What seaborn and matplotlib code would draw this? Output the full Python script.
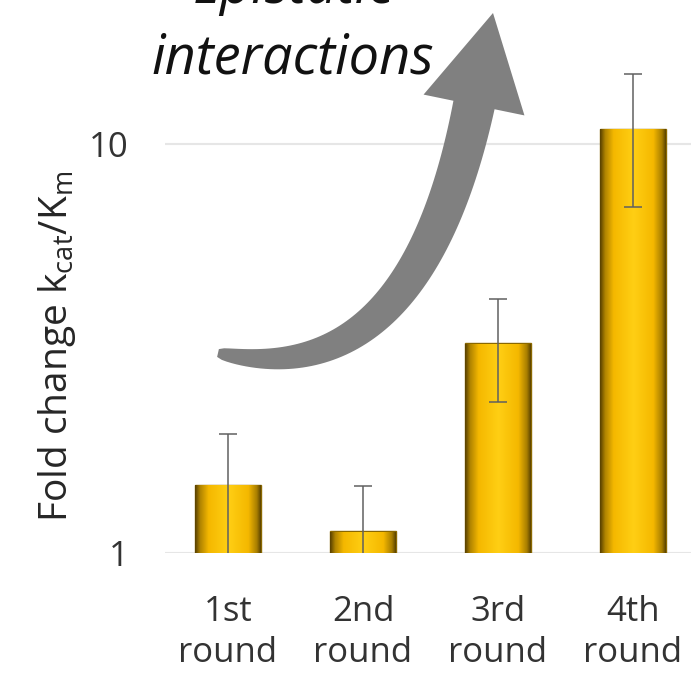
import numpy as np
import matplotlib
matplotlib.use('Agg')
import matplotlib.pyplot as plt
import seaborn as sns
from matplotlib.colors import LinearSegmentedColormap
from matplotlib.patches import Polygon

# Data
rounds = ['1st\nround', '2nd\nround', '3rd\nround', '4th\nround']
fold_change = [1.47, 1.13, 3.26, 10.9]
fold_error = [0.48, 0.33, 0.92, 3.9]
y_ticks = [1, 10]
y_tick_labels = ['1', '10']

sns.set_style('white')
plt.rcParams['font.family'] = ['Open Sans', 'DejaVu Sans']
plt.rcParams['mathtext.default'] = 'regular'

W, H = 691, 677
fig = plt.figure(figsize=(W / 100, H / 100), dpi=100)
ax = fig.add_axes([165 / W, 124 / H, (W - 165) / W, 493 / H])

# Bars
sns.barplot(x=rounds, y=fold_change, color='#FFC000', width=0.49,
            errorbar=None, edgecolor='#8a6800', linewidth=1.0, ax=ax)
ax.set_yscale('log')

# Metallic gold shading inside each bar
gold = LinearSegmentedColormap.from_list('gold', [
    (0.0, '#5e4500'), (0.07, '#b08400'), (0.2, '#f5b800'),
    (0.5, '#ffcf14'), (0.8, '#f5b800'), (0.93, '#a87e00'), (1.0, '#4e3900')])
grad = np.linspace(0, 1, 256).reshape(1, -1)
for bar in ax.patches:
    x0 = bar.get_x()
    w = bar.get_width()
    h = bar.get_height()
    im = ax.imshow(grad, cmap=gold, aspect='auto', extent=(x0, x0 + w, 1, h),
                   zorder=bar.get_zorder() + 0.1, interpolation='bilinear')
    im.set_clip_path(bar)
ax.set_ylim(1, 16.05)
ax.set_xlim(-0.467, 3.43)

# Error bars
ax.errorbar(x=np.arange(len(rounds)), y=fold_change, yerr=fold_error, fmt='none',
            ecolor='#606060', elinewidth=1.1, capsize=6.5, capthick=1.1, zorder=5)

# Axes styling
ax.yaxis.set_major_locator(matplotlib.ticker.FixedLocator(y_ticks))
ax.yaxis.set_minor_locator(matplotlib.ticker.NullLocator())
ax.set_yticklabels(y_tick_labels)
ax.grid(True, axis='y', color='#e6e6e6', linewidth=1.5)
ax.set_axisbelow(True)
for s in ax.spines.values():
    s.set_visible(False)
ax.tick_params(axis='both', length=0, labelsize=25, colors='#333333')
ax.tick_params(axis='y', pad=26)
ax.tick_params(axis='x', pad=30)
for t in ax.get_xticklabels():
    t.set_linespacing(1.3)

ax.set_ylabel('Fold change k$_{cat}$/K$_{m}$', fontsize=28, color='#262626')
ax.yaxis.set_label_coords(-0.165, 0.42)

# Annotation text
fig.text(293 / W, 1 - 74 / H, 'interactions', fontsize=39, style='italic',
         ha='center', va='baseline', color='#111111')
fig.text(293 / W, 1 - 3 / H, 'Epistatic', fontsize=39, style='italic',
         ha='center', va='baseline', color='#111111')

# Curved block arrow (pixel geometry, tapering tail)
S = np.array([218.0, 324.0])
C = np.array([413.7, 279.8])
B = np.array([474.0, 572.0])
T = np.array([493.0, 664.0])
u = np.linspace(0, 1, 80)[:, None]
centre = (1 - u) ** 2 * S + 2 * (1 - u) * u * C + u ** 2 * B
tang = 2 * (1 - u) * (C - S) + 2 * u * (B - C)
tang /= np.linalg.norm(tang, axis=1, keepdims=True)
normal = np.column_stack([-tang[:, 1], tang[:, 0]])
half = (8 + 34 * np.sqrt(u)) / 2
left = centre + normal * half
right = centre - normal * half
nb = normal[-1]
head = [B + nb * 51.5, T, B - nb * 51.5]
outline = np.vstack([left, head, right[::-1]])
outline = outline / np.array([W, H])
fig.add_artist(Polygon(outline, closed=True, transform=fig.transFigure,
                       facecolor='#808080', edgecolor='none', zorder=10))

fig.savefig('out.png', dpi=100)
